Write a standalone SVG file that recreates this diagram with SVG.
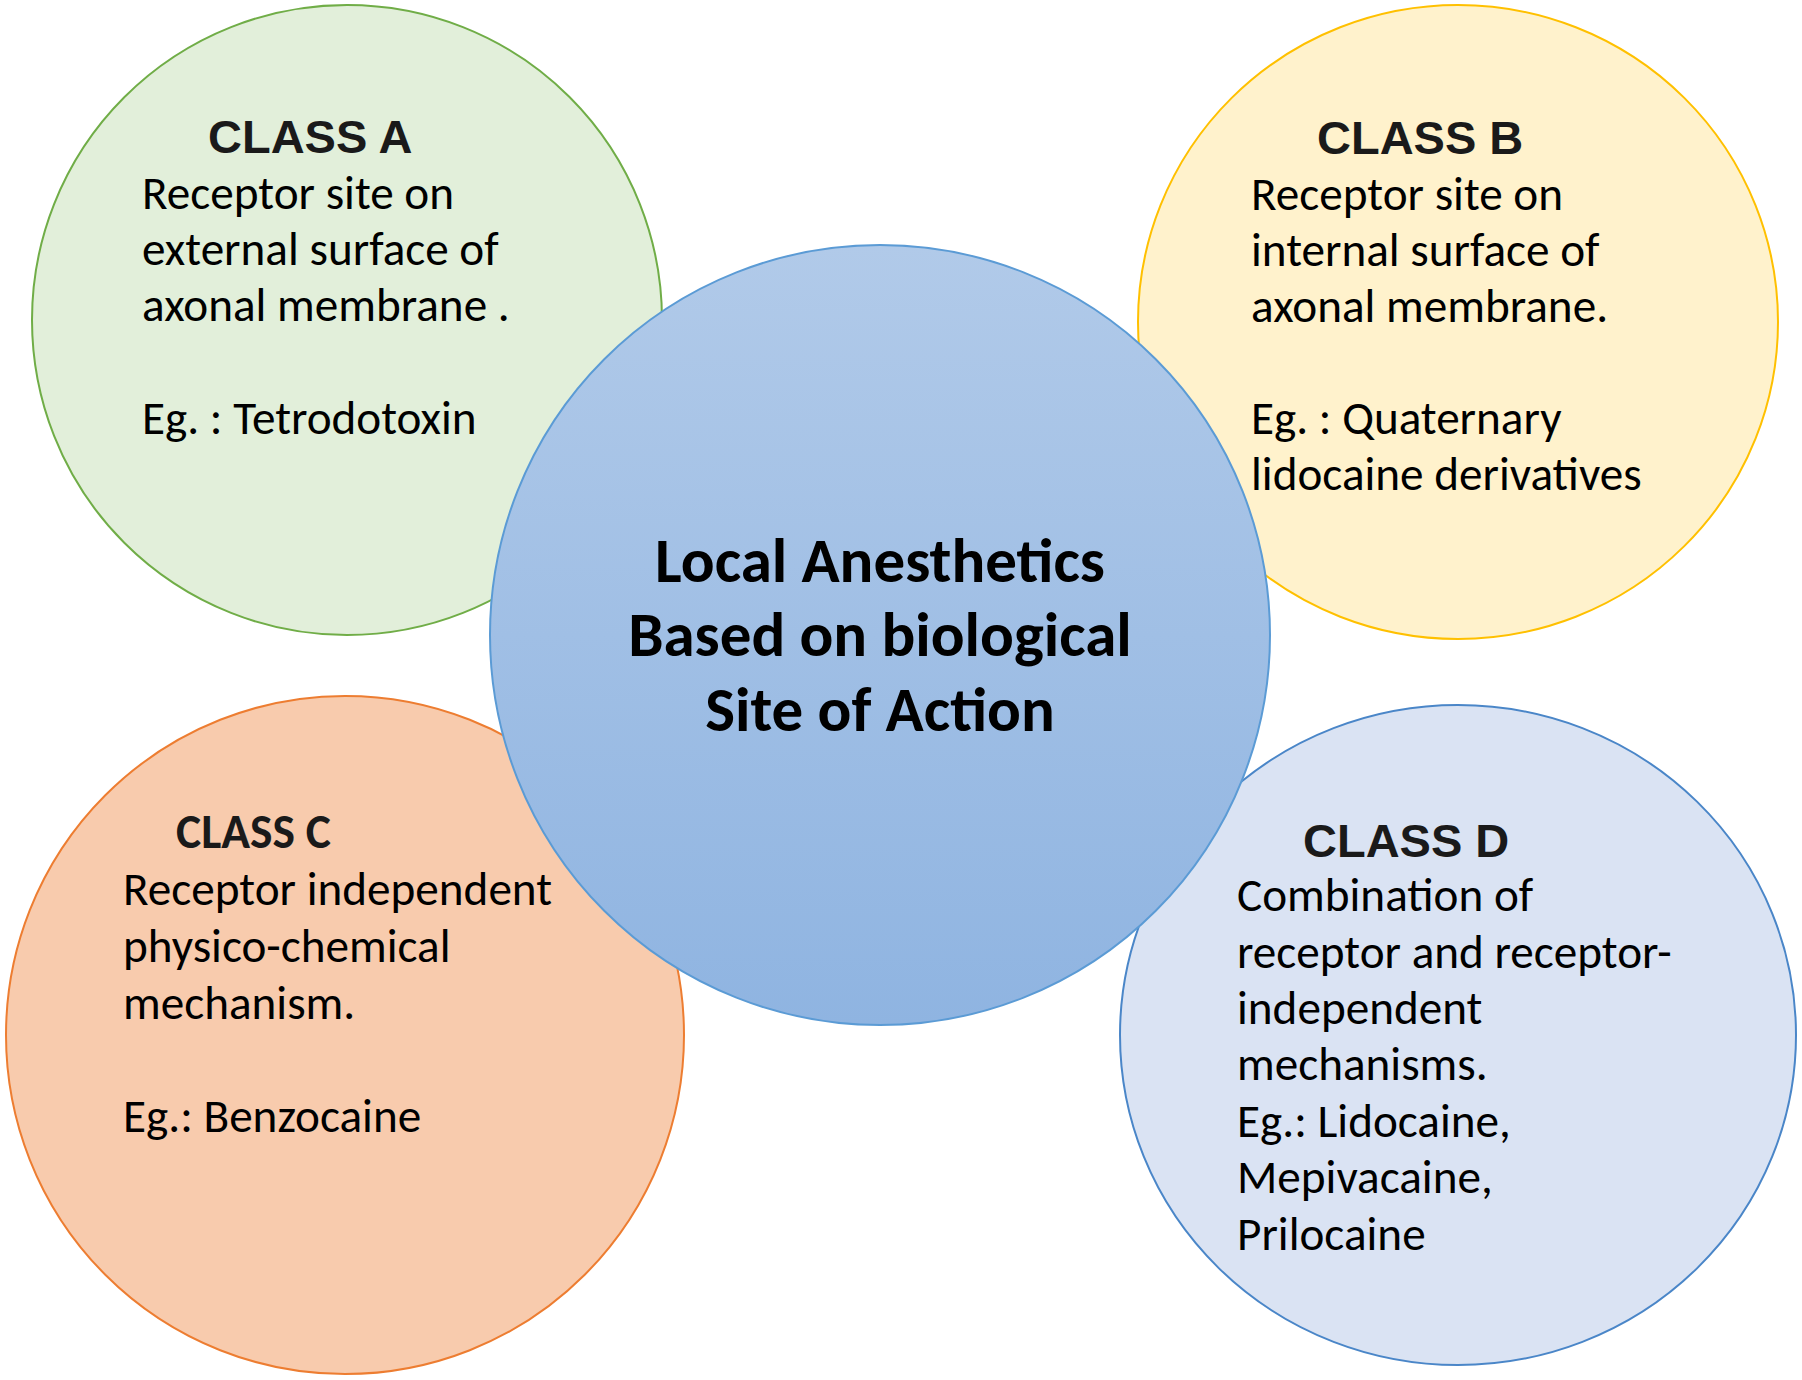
<svg xmlns="http://www.w3.org/2000/svg" width="1802" height="1380" viewBox="0 0 1802 1380">
<defs>
<linearGradient id="gCenter" x1="0" y1="0" x2="0" y2="1">
<stop offset="0" stop-color="#b1cae9"/>
<stop offset="1" stop-color="#8fb4e1"/>
</linearGradient>
<style>
.body{font-family:Carlito,Lato,"Liberation Sans",sans-serif;font-size:47.2px;fill:#000}
.head{font-family:"Liberation Sans",Arial,sans-serif;font-weight:bold;font-size:47px;fill:#1a1a1a}
.headc{font-family:Carlito,Lato,"Liberation Sans",sans-serif;font-weight:bold;font-size:47.5px;fill:#1a1a1a}
.center{font-family:Carlito,Lato,"Liberation Sans",sans-serif;font-weight:bold;font-size:63px;fill:#000;text-anchor:middle}
</style>
</defs>
<rect width="1802" height="1380" fill="#ffffff"/>
<g id="classA">
<circle cx="347" cy="320" r="315" fill="#e2efda" stroke="#70ad47" stroke-width="2"/>
<text class="head" x="208" y="153">CLASS A</text>
<text class="body" x="142" y="209">Receptor site on</text>
<text class="body" x="142" y="265">external surface of</text>
<text class="body" x="142" y="321">axonal membrane .</text>
<text class="body" x="142" y="434">Eg. : Tetrodotoxin</text>
</g>
<g id="classB">
<ellipse cx="1458" cy="322" rx="320" ry="317" fill="#fff2cc" stroke="#ffc000" stroke-width="2"/>
<text class="head" x="1317" y="154">CLASS B</text>
<text class="body" x="1251" y="210">Receptor site on</text>
<text class="body" x="1251" y="266">internal surface of</text>
<text class="body" x="1251" y="322">axonal membrane.</text>
<text class="body" x="1251" y="434">Eg. : Quaternary</text>
<text class="body" x="1251" y="490">lidocaine derivatives</text>
</g>
<g id="classC">
<circle cx="345" cy="1035" r="339" fill="#f8cbad" stroke="#ed7d31" stroke-width="2"/>
<text class="headc" x="176" y="848">CLASS C</text>
<text class="body" x="123" y="905">Receptor independent</text>
<text class="body" x="123" y="962">physico-chemical</text>
<text class="body" x="123" y="1019">mechanism.</text>
<text class="body" x="123" y="1132">Eg.: Benzocaine</text>
</g>
<g id="classD">
<ellipse cx="1458" cy="1035" rx="338" ry="330" fill="#dae3f3" stroke="#4a86c8" stroke-width="2"/>
<text class="head" x="1303" y="857">CLASS D</text>
<text class="body" x="1237" y="911">Combination of</text>
<text class="body" x="1237" y="968">receptor and receptor-</text>
<text class="body" x="1237" y="1024">independent</text>
<text class="body" x="1237" y="1080">mechanisms.</text>
<text class="body" x="1237" y="1137">Eg.: Lidocaine,</text>
<text class="body" x="1237" y="1193">Mepivacaine,</text>
<text class="body" x="1237" y="1250">Prilocaine</text>
</g>
<g id="center">
<circle cx="880" cy="635" r="390" fill="url(#gCenter)" stroke="#5b9bd5" stroke-width="2"/>
<text class="center" x="880" y="582">Local Anesthetics</text>
<text class="center" x="880" y="656">Based on biological</text>
<text class="center" x="880" y="731">Site of Action</text>
</g>
<g id="connectors"></g>
</svg>
